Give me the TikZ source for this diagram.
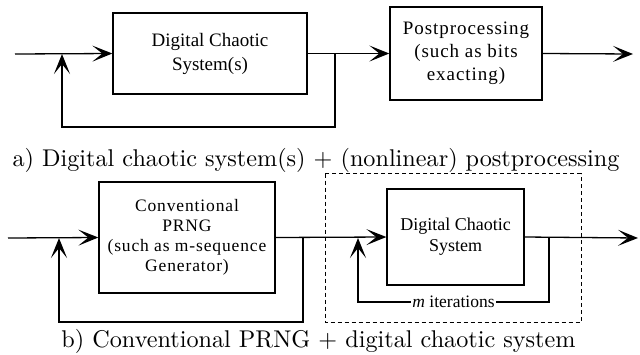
\documentclass[tikz,border=0pt]{standalone}
\usepackage{fontspec}
\setmainfont{lmroman10-regular.otf}
\newfontfamily\tms{Liberation Serif}
\newfontfamily\tmsls[LetterSpace=5]{Liberation Serif}
\usetikzlibrary{arrows.meta}
\begin{document}
\begin{tikzpicture}[x=1pt,y=-1pt,
  line width=1.3pt,
  arr/.style={-{Stealth[length=20pt,width=16pt,inset=10pt]}},
  blk/.style={draw,rectangle,align=center,inner sep=0pt},
  boxtxt/.style={font=\fontsize{19}{24}\selectfont\tms},
  boxtxtb/.style={font=\fontsize{17.5}{20}\selectfont\tmsls},
  captxt/.style={font=\fontsize{24.2}{26}\selectfont,anchor=base}]
\useasboundingbox (0,0) rectangle (640,354);
% ---- a)
\node[blk,boxtxt,minimum width=194pt,minimum height=81pt] (dcs) at (210,53.5) {Digital Chaotic\\System(s)};
\node[blk,font=\fontsize{19}{23}\selectfont\tmsls,minimum width=152pt,minimum height=93pt] (post) at (466,53.5) {Postprocessing\\(such as bits\\exacting)};
\coordinate (ina) at (15,54);
\coordinate (ja) at (335,54);
\coordinate (fa) at (62,54);
\coordinate (outa) at (633,54);
\draw[arr] (ina) -- (dcs.west);
\draw[arr] (dcs.east) -- (post.west);
\draw[arr] (post.east) -- (outa);
\draw[arr] (ja) -- ++(0,73) -| (fa);
\node[captxt] (capa) at (316,166) {a) Digital chaotic system(s) + (nonlinear) postprocessing};
% ---- b)
\node[blk,boxtxtb,minimum width=176pt,minimum height=111pt] (prng) at (187,237.5) {Conventional\\PRNG\\(such as m-sequence\\Generator)};
\node[blk,font=\fontsize{18}{21}\selectfont\tms,minimum width=137pt,minimum height=96pt] (dcs2) at (455.5,237) {Digital Chaotic\\System};
\draw[line width=0.9pt,dash pattern=on 4pt off 3pt] (325,173.5) rectangle (581,322);
\coordinate (inb) at (8,238);
\coordinate (jb) at (303,238);
\coordinate (fb) at (59,238);
\coordinate (jc) at (549,238);
\coordinate (fc) at (358,238);
\coordinate (outb) at (638,238);
\draw[arr] (inb) -- (prng.west);
\draw[arr] (prng.east) -- (dcs2.west);
\draw[arr] (dcs2.east) -- (outb);
\draw[arr] (jb) -- ++(0,84) -| (fb);
\draw[arr] (jc) -- ++(0,64) -| node[pos=0.25,fill=white,inner sep=1pt,font=\fontsize{17.5}{20}\selectfont\tms] (mit) {\textit{m} iterations} (fc);
\node[captxt] (capb) at (318.5,347) {b) Conventional PRNG + digital chaotic system};
\end{tikzpicture}
\end{document}
